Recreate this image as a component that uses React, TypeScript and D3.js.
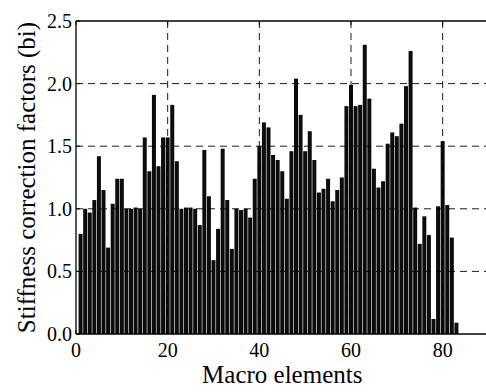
import React from "react";
import * as d3 from "d3";

const elements: number[] = d3.range(1, 84);
const factors: number[] = [
  0.80, 1.00, 0.97, 1.07, 1.42, 1.15, 0.69, 1.04, 1.24, 1.24,
  1.00, 1.00, 1.01, 1.00, 1.57, 1.30, 1.91, 1.34, 1.57, 1.57,
  1.83, 1.38, 1.00, 1.01, 1.01, 1.00, 0.87, 1.47, 1.10, 0.59,
  0.84, 1.48, 1.07, 0.68, 1.00, 0.99, 1.00, 0.93, 1.24, 1.50,
  1.69, 1.65, 1.43, 1.39, 1.30, 1.08, 1.46, 2.04, 1.75, 1.46,
  1.62, 1.39, 1.13, 1.16, 1.24, 1.06, 1.15, 1.25, 1.82, 1.99,
  1.82, 1.83, 2.31, 1.88, 1.32, 1.17, 1.22, 1.52, 1.61, 1.58,
  1.68, 1.98, 2.26, 1.01, 0.72, 0.94, 0.79, 0.12, 1.02, 1.54,
  1.03, 0.77, 0.09,
];
const xTicks: number[] = [0, 20, 40, 60, 80];
const yTicks: number[] = [0, 0.5, 1.0, 1.5, 2.0, 2.5];
const xTitle = "Macro elements";
const yTitle = "Stiffness correction factors (bi)";

const W = 486;
const H = 392;
const L = 76;
const R = 488.5;
const T = 21;
const B = 334;
const FONT = "'Liberation Serif', 'Times New Roman', serif";

export default function App() {
  const x = d3.scaleLinear().domain([0, 90]).range([L, R]);
  const y = d3.scaleLinear().domain([0, 2.5]).range([B, T]);
  const step = x(1) - x(0);

  return (
    <svg
      width={W}
      height={H}
      style={{ position: "absolute", left: 0, top: 0, background: "#fff" }}
    >
      <rect x={0} y={0} width={W} height={H} fill="#fff" />
      {factors.map((v, i) => (
        <rect
          key={i}
          x={x(elements[i] - 0.5) + 0.3}
          y={y(v)}
          width={step - 0.6}
          height={y(0) - y(v)}
          fill="#0c0c0c"
        />
      ))}
      {yTicks
        .filter((t) => t > 0 && t < 2.5)
        .map((t) => (
          <line
            key={"gy" + t}
            x1={L}
            x2={R}
            y1={y(t)}
            y2={y(t)}
            stroke="#000"
            strokeWidth={0.9}
            strokeDasharray="7,5"
          />
        ))}
      {xTicks
        .filter((t) => t > 0)
        .map((t) => (
          <line
            key={"gx" + t}
            x1={x(t)}
            x2={x(t)}
            y1={T}
            y2={B}
            stroke="#000"
            strokeWidth={0.9}
            strokeDasharray="7,5"
          />
        ))}
      <line x1={L} x2={L} y1={T} y2={B} stroke="#000" strokeWidth={1.3} />
      <line x1={L} x2={R} y1={B} y2={B} stroke="#000" strokeWidth={1.3} />
      <line x1={L} x2={R} y1={T} y2={T} stroke="#000" strokeWidth={1.3} />
      {yTicks.map((t) => (
        <g key={"ty" + t}>
          <line x1={L} x2={L + 4} y1={y(t)} y2={y(t)} stroke="#000" strokeWidth={1} />
          <text
            x={L - 4}
            y={y(t)}
            dy="0.35em"
            textAnchor="end"
            fontFamily={FONT}
            fontSize={20}
            fill="#000"
          >
            {t.toFixed(1)}
          </text>
        </g>
      ))}
      {xTicks.map((t) => (
        <g key={"tx" + t}>
          <line x1={x(t)} x2={x(t)} y1={B} y2={B - 4} stroke="#000" strokeWidth={1} />
          <line x1={x(t)} x2={x(t)} y1={T} y2={T + 4} stroke="#000" strokeWidth={1} />
          <text
            x={x(t)}
            y={357}
            textAnchor="middle"
            fontFamily={FONT}
            fontSize={20}
            fill="#000"
          >
            {t}
          </text>
        </g>
      ))}
      <text
        x={(L + R) / 2}
        y={383}
        textAnchor="middle"
        fontFamily={FONT}
        fontSize={25}
        fill="#000"
      >
        {xTitle}
      </text>
      <text
        transform={`translate(35,${(T + B) / 2}) rotate(-90)`}
        textAnchor="middle"
        fontFamily={FONT}
        fontSize={25}
        fill="#000"
      >
        {yTitle}
      </text>
    </svg>
  );
}
